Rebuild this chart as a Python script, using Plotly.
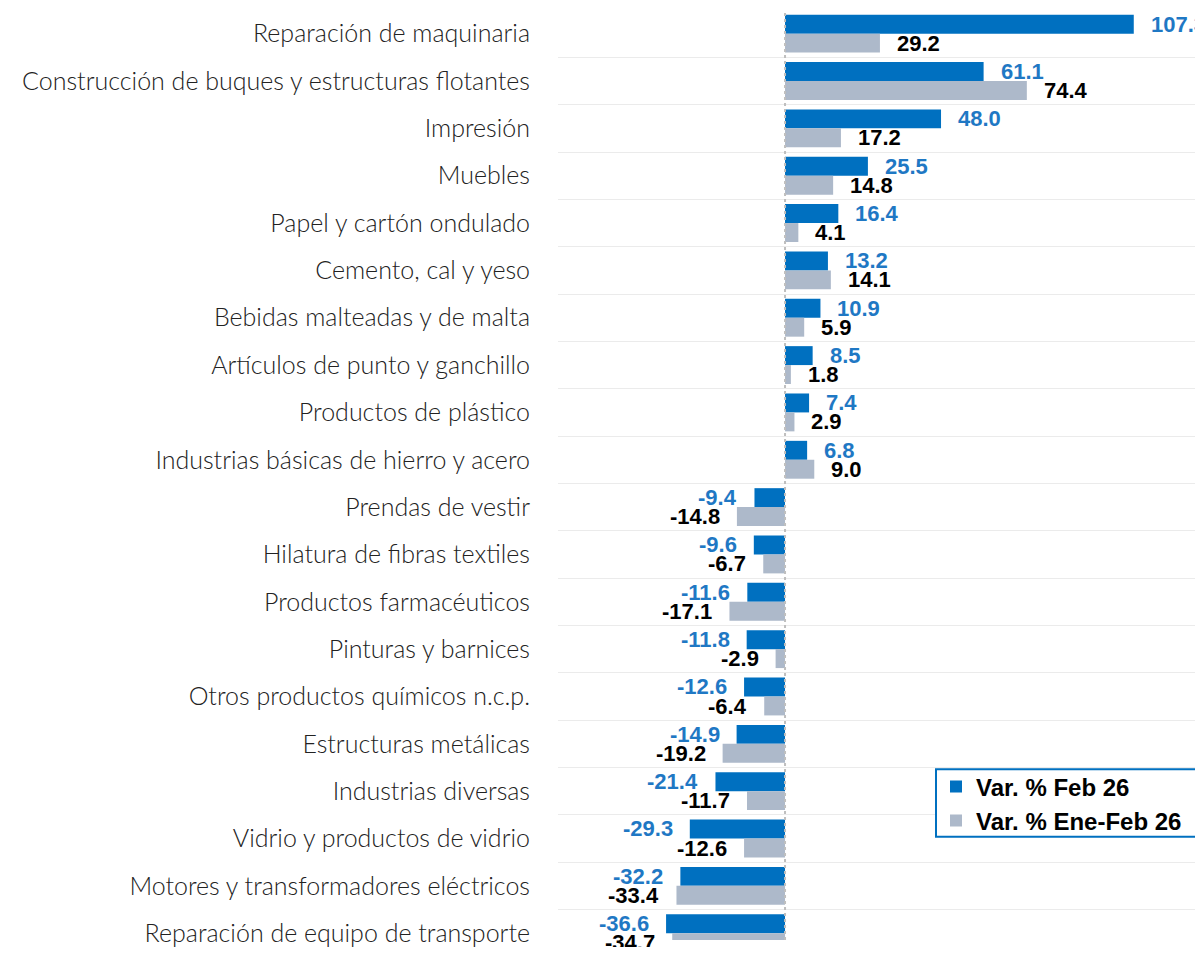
import plotly.graph_objects as go

categories = [
    "Reparación de maquinaria",
    "Construcción de buques y estructuras flotantes",
    "Impresión",
    "Muebles",
    "Papel y cartón ondulado",
    "Cemento, cal y yeso",
    "Bebidas malteadas y de malta",
    "Artículos de punto y ganchillo",
    "Productos de plástico",
    "Industrias básicas de hierro y acero",
    "Prendas de vestir",
    "Hilatura de fibras textiles",
    "Productos farmacéuticos",
    "Pinturas y barnices",
    "Otros productos químicos n.c.p.",
    "Estructuras metálicas",
    "Industrias diversas",
    "Vidrio y productos de vidrio",
    "Motores y transformadores eléctricos",
    "Reparación de equipo de transporte",
]
var_feb = [107.3, 61.1, 48.0, 25.5, 16.4, 13.2, 10.9, 8.5, 7.4, 6.8,
           -9.4, -9.6, -11.6, -11.8, -12.6, -14.9, -21.4, -29.3, -32.2, -36.6]
var_enefeb = [29.2, 74.4, 17.2, 14.8, 4.1, 14.1, 5.9, 1.8, 2.9, 9.0,
              -14.8, -6.7, -17.1, -2.9, -6.4, -19.2, -11.7, -12.6, -33.4, -34.7]
series_names = ["Var. % Feb 26", "Var. % Ene-Feb 26"]

BLUE = "#0070C0"
GRAY = "#ADB9CA"
BLUE_TXT = "#1F78C4"

W, H = 1195, 939
ML, MT = 550, 2
PLOT_H = H - MT
ROW_PX = 47.7
Y_BOTTOM = -0.5 + PLOT_H / ROW_PX

fig = go.Figure()
fig.add_trace(go.Bar(y=categories, x=var_feb, orientation="h", name=series_names[0],
                     marker=dict(color=BLUE, line=dict(width=0))))
fig.add_trace(go.Bar(y=categories, x=var_enefeb, orientation="h", name=series_names[1],
                     marker=dict(color=GRAY, line=dict(width=0))))

off = 0.2 * ROW_PX
annotations = []
for cat, a, b in zip(categories, var_feb, var_enefeb):
    for v, color, ys in ((a, BLUE_TXT, off), (b, "#000000", -off)):
        annotations.append(dict(
            x=v, y=cat, xref="x", yref="y", text=f"{v:.1f}", showarrow=False,
            xanchor="left" if v >= 0 else "right", xshift=15 if v >= 0 else -15,
            yshift=ys, font=dict(family="Liberation Sans, Arial", size=22, color=color,
                                 weight="bold"),
        ))

def py(screen_y):
    return (MT + 8 + PLOT_H - screen_y) / PLOT_H

def px(screen_x):
    return (screen_x - 8 - ML) / (W - ML)

fig.update_layout(
    width=W, height=H,
    margin=dict(l=ML, r=0, t=MT, b=0),
    paper_bgcolor="white", plot_bgcolor="white",
    barmode="group", bargap=0.2, bargroupgap=0,
    showlegend=True,
    legend=dict(
        x=px(936), y=py(770), xanchor="left", yanchor="top",
        borderwidth=0, bgcolor="rgba(0,0,0,0)",
        font=dict(family="Liberation Sans, Arial", size=24, color="#000000", weight="bold"),
        traceorder="normal", tracegroupgap=0,
    ),
    xaxis=dict(range=[-69.85, 128.6], showgrid=False, zeroline=False,
               showticklabels=False, ticks="", showline=False),
    yaxis=dict(type="category", categoryorder="array", categoryarray=categories,
               range=[Y_BOTTOM, -0.5], tickson="boundaries", showgrid=True,
               gridcolor="#EBEBEB", gridwidth=1, ticks="", showline=False,
               zeroline=False, ticklabelstandoff=27,
               tickfont=dict(family="Lato, Carlito, Calibri", size=25, color="#222222",
                             weight=300)),
    shapes=[
        dict(type="line", xref="x", yref="paper", x0=0, x1=0, y0=0, y1=1,
             line=dict(color="#BFBFBF", width=2, dash="dot"), layer="above"),
        dict(type="rect", xref="paper", yref="paper",
             x0=px(936), x1=px(1196), y0=py(843), y1=py(775),
             fillcolor="white", line=dict(color=BLUE, width=2), layer="above"),
    ],
    annotations=annotations,
)

fig.write_html("out.html")
